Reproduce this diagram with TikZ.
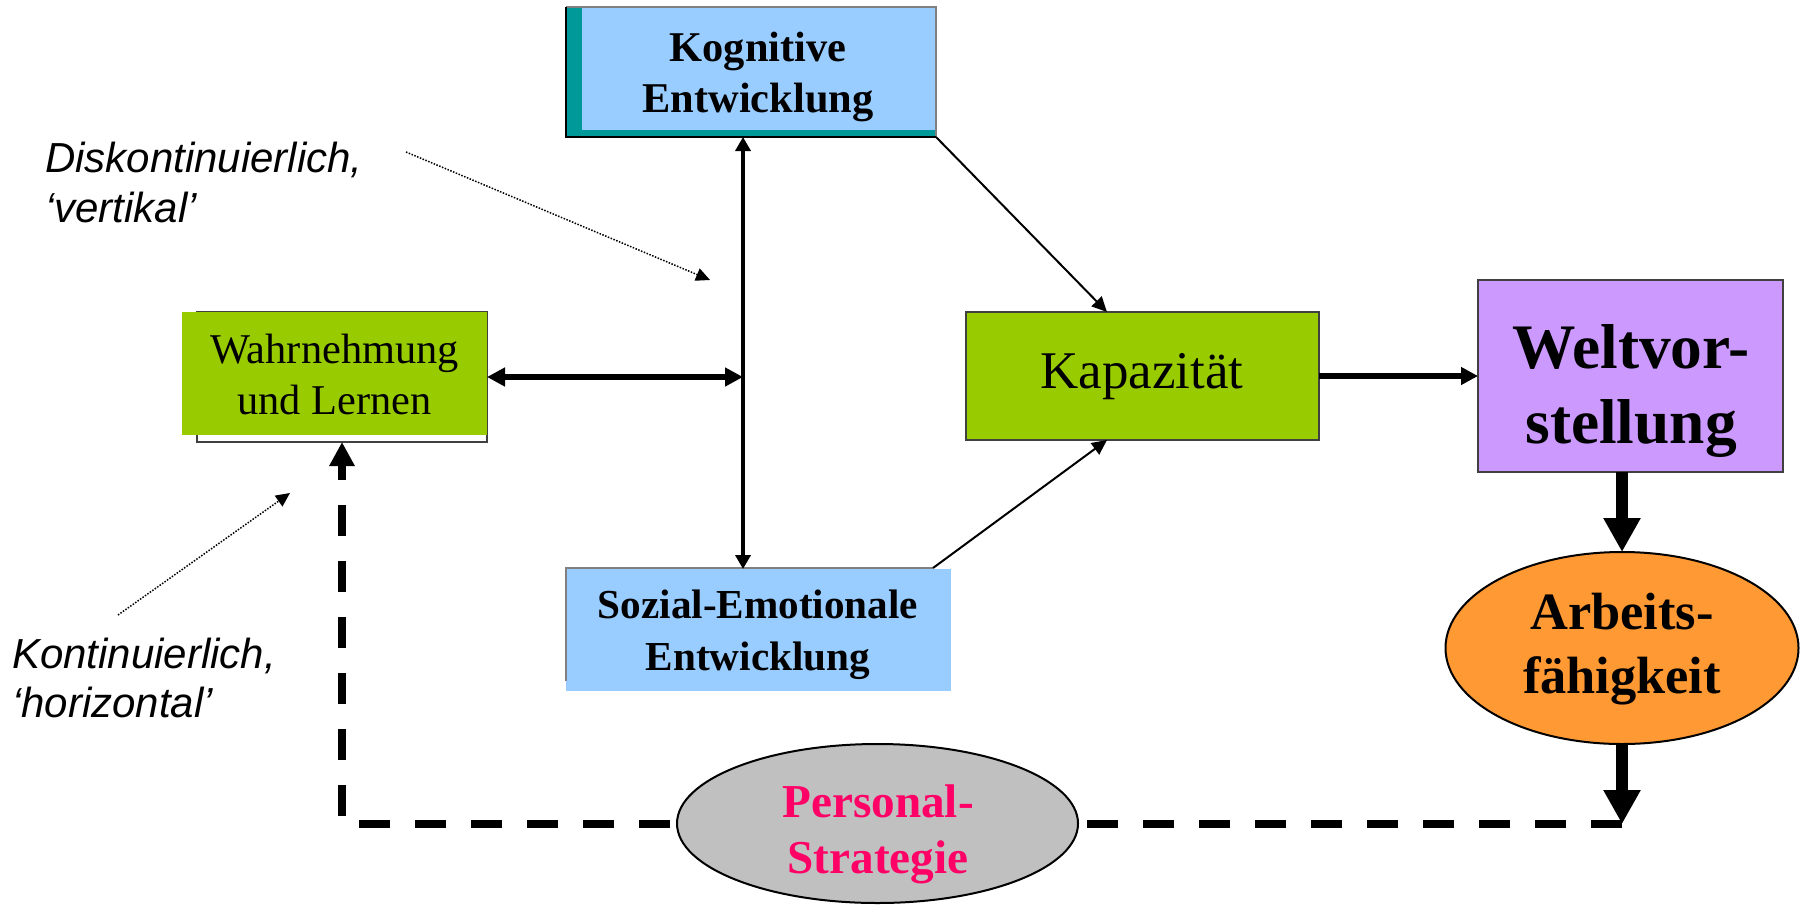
\documentclass[tikz,border=0pt]{standalone}
\usepackage{fontspec}
\setmainfont{Liberation Serif}
\newfontfamily\arialf{Liberation Sans}
\usetikzlibrary{arrows.meta,fit,shapes.geometric,calc}
\definecolor{lblue}{HTML}{99CCFF}
\definecolor{tealc}{HTML}{009999}
\definecolor{greenc}{HTML}{99CC00}
\definecolor{lavc}{HTML}{CC99FF}
\definecolor{orangec}{HTML}{FF9933}
\definecolor{grayc}{HTML}{C0C0C0}
\definecolor{magc}{HTML}{FF0066}
\definecolor{dgray}{HTML}{404040}
\newcommand\mytwol[2]{\begin{tabular}[t]{@{}c@{}}#1\\#2\end{tabular}}
\newcommand\mytwoll[2]{\begin{tabular}[t]{@{}l@{}}#1\\#2\end{tabular}}
\begin{document}
\begin{tikzpicture}[x=0.5pt,y=-0.5pt,
  boxf/.style={inner sep=0pt, outer sep=0pt},
  txt/.style={anchor=base, inner sep=0pt, outer sep=0pt},
  note/.style={anchor=base west, inner sep=0pt, outer sep=0pt, font=\arialf\itshape\fontsize{21pt}{25pt}\selectfont},
  rbox/.style={boxf, draw=dgray, line width=0.75pt},
  oval/.style={ellipse, boxf, draw=black, line width=1pt},
  thinarr/.style={line width=1pt, -{Triangle[length=7.5pt,width=7pt]}},
  dblarr/.style={line width=1.75pt, {Triangle[length=7pt,width=7.5pt]}-{Triangle[length=7pt,width=7.5pt]}},
  hdblarr/.style={line width=2.75pt, {Triangle[length=9pt,width=9pt]}-{Triangle[length=9pt,width=9pt]}},
  medarr/.style={line width=3pt, -{Triangle[length=8.5pt,width=8.5pt]}},
  thickarr/.style={line width=5.75pt, -{Triangle[length=17pt,width=17.5pt]}},
  dasharr/.style={line width=4pt, dash pattern=on 15.5pt off 12.5pt, -{Triangle[length=12pt,width=12pt]}},
  dotarr/.style={line width=0.75pt, dash pattern=on 0.75pt off 0.75pt, -{Triangle[length=7pt,width=6.5pt]}}
]
\useasboundingbox (0,0) rectangle (1802,904);

% Kognitive Entwicklung
\node[fit={(566,7) (936,137)}, boxf, fill=tealc] (kog) {};
\fill[lblue] (kog.north west) ++(16,0) rectangle ($(kog.south east)+(0,-7)$);
\draw[gray, line width=0.6pt] (kog.south east) -- (kog.north east) -- (kog.north west);
\draw[black, line width=1pt] (kog.north west) -- (kog.south west) -- (kog.south east);
\node[txt] (kogt) at (758,62) {\bfseries\fontsize{21.2pt}{25pt}\selectfont\mytwol{Kognitive}{Entwicklung}};

% Sozial-Emotionale Entwicklung
\node[fit={(566,569) (951,691)}, boxf, fill=lblue] (soz) {};
\coordinate (sozc) at (933,568);
\draw[gray, line width=0.6pt] (566,681) -- (566,568) -- (sozc);
\node[txt] (sozt) at (758,618) {\bfseries\fontsize{20.6pt}{26pt}\selectfont\mytwol{Sozial-Emotionale}{Entwicklung}};

% Wahrnehmung und Lernen
\node[fit={(197,312) (487,442)}, rbox, fill=white] (wahro) {};
\node[fit={(182,312) (487,435)}, boxf, fill=greenc] (wahr) {};
\node[txt] (wahrt) at (334.5,363) {\fontsize{21.2pt}{25.5pt}\selectfont\mytwol{Wahrnehmung}{und Lernen}};

% Kapazitaet
\node[fit={(966,312) (1319,440)}, rbox, fill=greenc] (kap) {};
\node[txt] (kapt) at (1142,388) {\fontsize{26.5pt}{30pt}\selectfont Kapazität};

% Weltvorstellung
\node[fit={(1478,280) (1783,472)}, rbox, fill=lavc] (welt) {};
\node[txt] (weltt) at (1631,368) {\bfseries\fontsize{31.7pt}{37.5pt}\selectfont\mytwol{Weltvor-}{stellung}};

% Arbeitsfaehigkeit
\node[oval, fill=orangec, minimum width=176.5pt, minimum height=96pt] (arb) at (1622,648) {};
\node[txt] (arbt) at (1622,629) {\bfseries\fontsize{26.2pt}{32pt}\selectfont\mytwol{Arbeits-}{fähigkeit}};

% connectors
\coordinate (vx) at (743,377);
\draw[dblarr] (vx |- kog.south) -- (vx |- soz.north);
\draw[hdblarr] (wahr.east |- vx) -- (vx);
\draw[thinarr] (kog.south east) -- ([xshift=-17.75pt]kap.north);
\draw[thinarr] (sozc) -- ([xshift=-17.75pt]kap.south);
\draw[medarr] (kap.east) -- (welt.west |- kap.east);
\draw[thickarr] (arb.north |- welt.south) -- (arb.north);

\coordinate (rc) at (1622,824);
\coordinate (lc) at (342,824);
\draw[dasharr] (rc) -- (lc) -- (lc |- wahro.south);
\draw[thickarr] (arb.south) -- (rc);

% Personal-Strategie
\node[oval, fill=grayc, minimum width=200.5pt, minimum height=79.5pt] (pers) at (877.5,823.5) {};
\node[txt, text=magc] (perst) at (878,817) {\bfseries\fontsize{23.6pt}{28pt}\selectfont\mytwol{Personal-}{Strategie}};

% annotations
\node[note] (diskt) at (45,172) {\mytwoll{Diskontinuierlich,}{‘vertikal’}};
\node[note] (kontt) at (12,668) {\fontsize{21pt}{24.5pt}\selectfont\mytwoll{Kontinuierlich,}{‘horizontal’}};
\coordinate (d1s) at (406,152);
\coordinate (d1e) at (710,280);
\coordinate (d2s) at (118,615);
\coordinate (d2e) at (290,493);
\draw[dotarr] (d1s) -- (d1e);
\draw[dotarr] (d2s) -- (d2e);
\end{tikzpicture}
\end{document}
